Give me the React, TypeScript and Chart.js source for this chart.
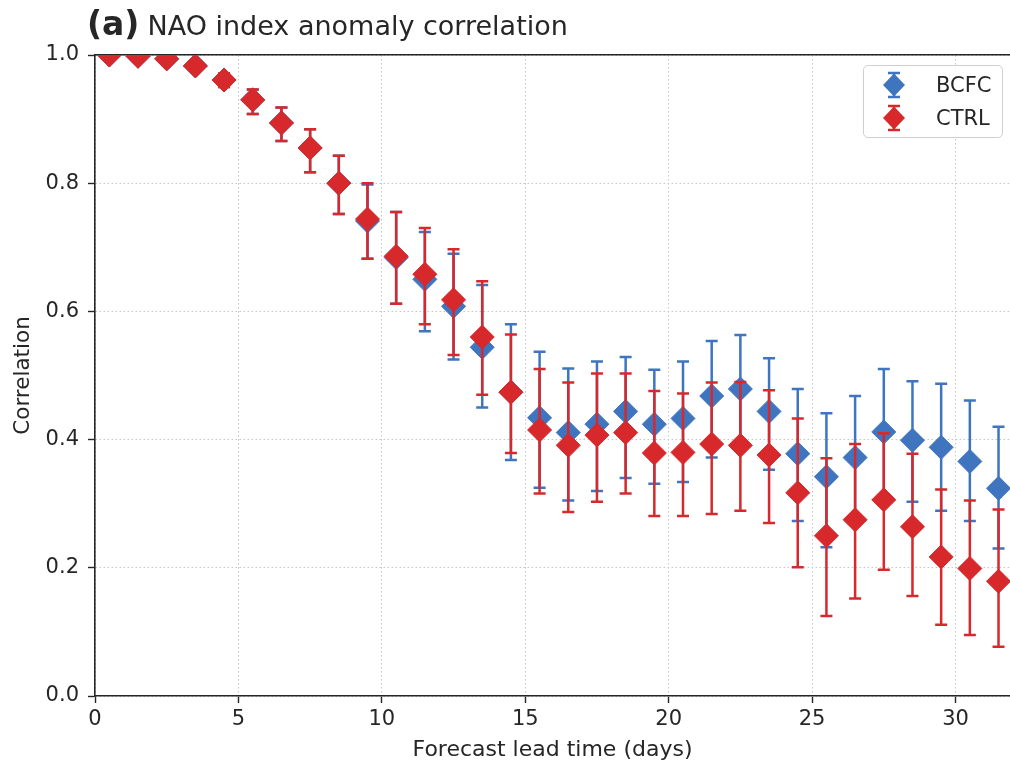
import React, { useEffect, useRef } from "react";
import { Chart, registerables } from "chart.js";

Chart.register(...registerables);

// ---- data ----
const leadDays = [
  0.5, 1.5, 2.5, 3.5, 4.5, 5.5, 6.5, 7.5, 8.5, 9.5, 10.5, 11.5, 12.5, 13.5, 14.5, 15.5,
  16.5, 17.5, 18.5, 19.5, 20.5, 21.5, 22.5, 23.5, 24.5, 25.5, 26.5, 27.5, 28.5, 29.5, 30.5, 31.5,
];

const bcfcMean = [
  1.0, 0.998, 0.994, 0.983, 0.961, 0.93, 0.894, 0.855, 0.8, 0.741, 0.684, 0.65, 0.608, 0.544, 0.474, 0.434,
  0.411, 0.424, 0.444, 0.424, 0.433, 0.468, 0.479, 0.444, 0.378, 0.342, 0.372, 0.412, 0.399, 0.388, 0.366, 0.324,
];
const bcfcLow = [
  0.999, 0.996, 0.99, 0.976, 0.95, 0.908, 0.866, 0.817, 0.752, 0.682, 0.612, 0.569, 0.525, 0.45, 0.368, 0.325,
  0.305, 0.32, 0.34, 0.331, 0.334, 0.372, 0.395, 0.353, 0.273, 0.232, 0.275, 0.31, 0.303, 0.289, 0.273, 0.23,
];
const bcfcHigh = [
  1.0, 0.999, 0.997, 0.989, 0.971, 0.946, 0.918, 0.884, 0.843, 0.798, 0.755, 0.724, 0.69, 0.641, 0.58, 0.537,
  0.511, 0.522, 0.529, 0.509, 0.522, 0.554, 0.563, 0.527, 0.479, 0.441, 0.468, 0.51, 0.491, 0.487, 0.461, 0.42,
];

const ctrlMean = [
  1.0, 0.998, 0.994, 0.983, 0.961, 0.93, 0.894, 0.855, 0.8, 0.744, 0.686, 0.658, 0.618, 0.56, 0.474, 0.415,
  0.391, 0.407, 0.411, 0.379, 0.38, 0.393, 0.391, 0.376, 0.317, 0.25, 0.275, 0.306, 0.264, 0.217, 0.199, 0.179,
];
const ctrlLow = [
  0.999, 0.996, 0.99, 0.976, 0.95, 0.908, 0.866, 0.817, 0.752, 0.682, 0.612, 0.58, 0.532, 0.47, 0.379, 0.316,
  0.287, 0.303, 0.316, 0.281, 0.281, 0.284, 0.289, 0.27, 0.201, 0.125, 0.152, 0.197, 0.156, 0.111, 0.095, 0.077,
];
const ctrlHigh = [
  1.0, 0.999, 0.997, 0.989, 0.971, 0.946, 0.918, 0.884, 0.843, 0.8, 0.755, 0.73, 0.697, 0.647, 0.564, 0.51,
  0.489, 0.503, 0.503, 0.476, 0.472, 0.489, 0.49, 0.477, 0.433, 0.371, 0.393, 0.41, 0.378, 0.322, 0.305, 0.291,
];

const seriesNames = ["BCFC", "CTRL"];
const xTickStep = 5;
const yTickStep = 0.2;

const BLUE = "#3f75bf";
const RED = "#d7282b";
const FONT = "'DejaVu Sans', 'Noto Sans', sans-serif";
const TEXT = "#262626";
const SPINE = "#262626";

const errorBarPlugin = {
  id: "errorBars",
  beforeDatasetDraw(chart: any, args: any) {
    const ds = chart.data.datasets[args.index];
    if (!ds.errLow) return;
    const ctx = chart.ctx;
    const xs = chart.scales.x;
    const ys = chart.scales.y;
    const a = chart.chartArea;
    ctx.save();
    ctx.beginPath();
    ctx.rect(a.left, a.top, a.right - a.left, a.bottom - a.top);
    ctx.clip();
    ctx.strokeStyle = ds.backgroundColor;
    ctx.lineWidth = 2.5;
    ctx.lineCap = "butt";
    const cap = 6;
    ds.data.forEach((p: any, i: number) => {
      const px = xs.getPixelForValue(p.x);
      const lo = ys.getPixelForValue(ds.errLow[i]);
      const hi = ys.getPixelForValue(ds.errHigh[i]);
      ctx.beginPath();
      ctx.moveTo(px, lo);
      ctx.lineTo(px, hi);
      ctx.moveTo(px - cap, lo);
      ctx.lineTo(px + cap, lo);
      ctx.moveTo(px - cap, hi);
      ctx.lineTo(px + cap, hi);
      ctx.stroke();
    });
    ctx.restore();
  },
};

function LegendMarker({ color }: { color: string }) {
  return (
    <svg width={30} height={30} style={{ display: "block" }}>
      <line x1={15} y1={3} x2={15} y2={27} stroke={color} strokeWidth={2.5} />
      <line x1={9} y1={3} x2={21} y2={3} stroke={color} strokeWidth={2.5} />
      <line x1={9} y1={27} x2={21} y2={27} stroke={color} strokeWidth={2.5} />
      <polygon points="15,3.5 26,15 15,26.5 4,15" fill={color} />
    </svg>
  );
}

function noSidePadding(s: any) {
  s.paddingLeft = 0;
  s.paddingRight = 0;
}

export default function App() {
  const canvasRef = useRef<HTMLCanvasElement | null>(null);

  useEffect(() => {
    if (!canvasRef.current) return;
    const tickFont = { family: FONT, size: 21 };
    const gridCommon = {
      color: "#c4c4c4",
      lineWidth: 1,
      tickLength: 7,
      tickColor: SPINE,
      tickWidth: 1.4,
      tickBorderDash: [],
    };
    const chart = new Chart(canvasRef.current, {
      type: "scatter",
      data: {
        datasets: [
          {
            label: seriesNames[0],
            data: leadDays.map((x, i) => ({ x, y: bcfcMean[i] })),
            errLow: bcfcLow,
            errHigh: bcfcHigh,
            backgroundColor: BLUE,
            borderColor: BLUE,
            borderWidth: 1,
            pointStyle: "rectRot",
            pointRadius: 12,
            showLine: false,
            clip: 0,
            order: 1,
          } as any,
          {
            label: seriesNames[1],
            data: leadDays.map((x, i) => ({ x, y: ctrlMean[i] })),
            errLow: ctrlLow,
            errHigh: ctrlHigh,
            backgroundColor: RED,
            borderColor: RED,
            borderWidth: 1,
            pointStyle: "rectRot",
            pointRadius: 12,
            showLine: false,
            clip: 0,
            order: 0,
          } as any,
        ],
      },
      options: {
        animation: false,
        responsive: false,
        maintainAspectRatio: false,
        events: [],
        layout: { autoPadding: false, padding: { top: 55, left: 0, right: 0, bottom: 0 } },
        plugins: {
          legend: { display: false },
          tooltip: { enabled: false },
          title: { display: false },
        },
        scales: {
          x: {
            type: "linear",
            position: "bottom",
            min: 0,
            max: 31.9,
            ticks: {
              stepSize: xTickStep,
              includeBounds: false,
              font: tickFont,
              color: TEXT,
              padding: 4,
              maxRotation: 0,
            },
            grid: gridCommon as any,
            border: { display: true, color: SPINE, width: 1.6, dash: [1.5, 2.5] },
            title: {
              display: true,
              text: "Forecast lead time (days)",
              font: { family: FONT, size: 22 },
              color: TEXT,
              padding: { top: 0, bottom: 3 },
            },
            afterFit(s: any) {
              s.height = 70;
              noSidePadding(s);
            },
          },
          x2: {
            type: "linear",
            position: "top",
            min: 0,
            max: 31.9,
            ticks: { display: false },
            grid: { display: false, drawTicks: false },
            border: { display: true, color: SPINE, width: 1.6 },
            afterFit(s: any) {
              s.height = 0;
              noSidePadding(s);
            },
          },
          y: {
            type: "linear",
            min: 0,
            max: 1,
            ticks: {
              stepSize: yTickStep,
              font: tickFont,
              color: TEXT,
              padding: 9,
              callback: (v: any) => Number(v).toFixed(1),
            },
            grid: gridCommon as any,
            border: { display: true, color: SPINE, width: 1.6, dash: [1.5, 2.5] },
            title: {
              display: true,
              text: "Correlation",
              font: { family: FONT, size: 21.5 },
              color: TEXT,
              padding: { top: 11, bottom: 0 },
            },
            afterFit(s: any) {
              s.width = 95;
            },
          },
        },
      } as any,
      plugins: [errorBarPlugin],
    });
    return () => chart.destroy();
  }, []);

  return (
    <div
      style={{
        position: "absolute",
        left: 0,
        top: 0,
        width: 1010,
        height: 766,
        overflow: "hidden",
        background: "#fff",
        fontFamily: FONT,
        color: TEXT,
      }}
    >
      <canvas ref={canvasRef} width={1010} height={766} style={{ position: "absolute", left: 0, top: 0, width: 1010, height: 766 }} />
      <div
        style={{
          position: "absolute",
          left: 87,
          top: 7,
          display: "flex",
          alignItems: "baseline",
          lineHeight: 1,
          whiteSpace: "nowrap",
        }}
      >
        <span style={{ fontWeight: "bold", fontSize: 33 }}>(a)</span>
        <span style={{ fontSize: 27, marginLeft: 8 }}>NAO index anomaly correlation</span>
      </div>
      <div
        style={{
          position: "absolute",
          left: 863,
          top: 65,
          width: 140,
          height: 73,
          boxSizing: "border-box",
          border: "1px solid #cfcfcf",
          borderRadius: 5,
          background: "rgba(255,255,255,0.85)",
        }}
      >
        {[
          { name: seriesNames[0], color: BLUE, top: 4 },
          { name: seriesNames[1], color: RED, top: 37 },
        ].map((it) => (
          <div key={it.name} style={{ position: "absolute", left: 15, top: it.top, display: "flex", alignItems: "center", height: 30 }}>
            <LegendMarker color={it.color} />
            <span style={{ fontSize: 21, marginLeft: 27, lineHeight: 1 }}>{it.name}</span>
          </div>
        ))}
      </div>
    </div>
  );
}
